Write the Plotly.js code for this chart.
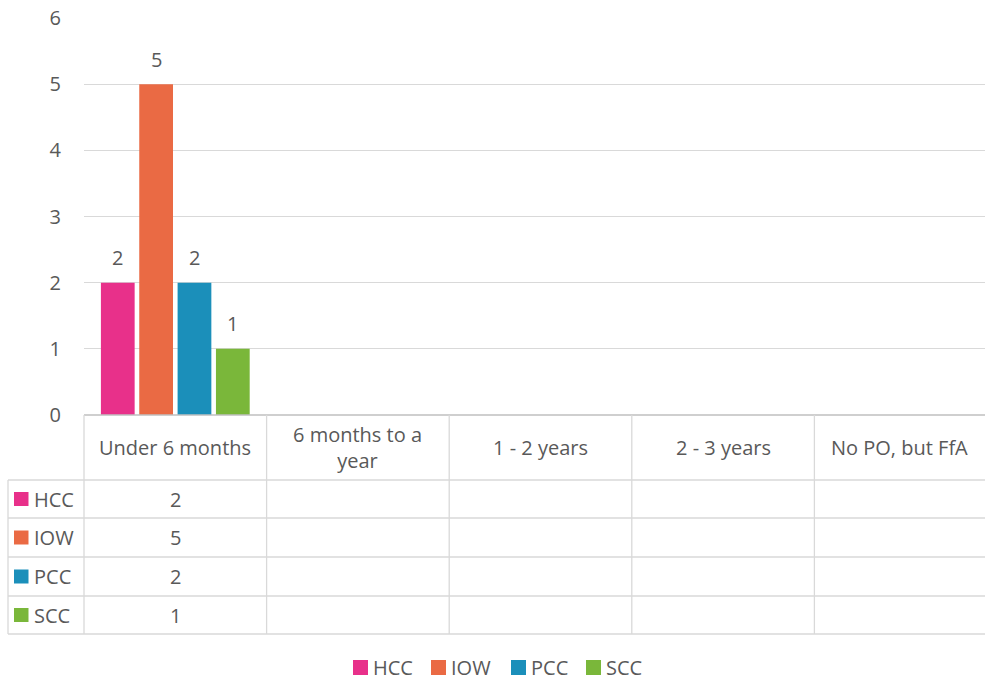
<!DOCTYPE html>
<html>
<head>
<meta charset="utf-8">
<script src="https://cdn.plot.ly/plotly-3.0.1.min.js"></script>
<style>html,body{margin:0;padding:0;background:#fff;}#chart{width:985px;height:682px;}</style>
</head>
<body>
<div id="chart"></div>
<script>
// ---- data ----
const categories = ["Under 6 months", "6 months to a year", "1 - 2 years", "2 - 3 years", "No PO, but FfA"];
const headerLabels = ["Under 6 months", "6 months to a<br>year", "1 - 2 years", "2 - 3 years", "No PO, but FfA"];
const seriesNames = ["HCC", "IOW", "PCC", "SCC"];
const hccValues = [2, null, null, null, null];
const iowValues = [5, null, null, null, null];
const pccValues = [2, null, null, null, null];
const sccValues = [1, null, null, null, null];
const seriesColors = ["#E8308A", "#EA6A44", "#1B8FBA", "#7AB73A"];
const yTicks = [0, 1, 2, 3, 4, 5, 6];

const seriesValues = [hccValues, iowValues, pccValues, sccValues];
const FONT = "Open Sans, sans-serif";
const TXT = "#595959";
const FS = 20;

const BARGAP = 0.16, GROUPGAP = 0.12;
const nS = seriesNames.length;
const slot = (1 - BARGAP) / nS;

const traces = seriesNames.map((name, i) => ({
  type: "bar",
  name: name,
  x: categories.map((c, k) => k),
  y: seriesValues[i],
  marker: {color: seriesColors[i]},
  hoverinfo: "skip",
  showlegend: false
}));

// pixel helpers (plot area: x 84..985, y 18..415)
const plotTop = 18, plotBottom = 415, plotLeft = 84, plotRight = 985;
const catPx = 182.6;
const ph = plotBottom - plotTop, pw = plotRight - plotLeft;
const xMax = -0.5 + pw / catPx;
const py = p => (plotBottom - p) / ph;
const px = p => (p - plotLeft) / pw;

const headerBottom = 480;
const rowLines = [480, 518, 557, 596, 634];
const tableLeft = 8;
const lineColor = "#D9D9D9";

const shapes = [];
const annotations = [];

// data labels above bars
seriesValues.forEach((vals, i) => {
  vals.forEach((v, k) => {
    if (v == null) return;
    annotations.push({xref: "x", yref: "y", x: k + (i - (nS - 1) / 2) * slot, y: v, yshift: 25, text: String(v),
      showarrow: false, xanchor: "center", yanchor: "middle", font: {family: FONT, size: FS, color: TXT}});
  });
});

// horizontal lines
shapes.push({type: "line", xref: "paper", yref: "paper", x0: 0, x1: 1, y0: 0, y1: 0, line: {color: "#BFBFBF", width: 1.3}});
rowLines.forEach(r => shapes.push({type: "line", xref: "paper", yref: "paper", x0: px(tableLeft), x1: 1, y0: py(r), y1: py(r), line: {color: lineColor, width: 1.3}}));
// vertical lines
shapes.push({type: "line", xref: "paper", yref: "paper", x0: px(tableLeft), x1: px(tableLeft), y0: py(headerBottom), y1: py(634), line: {color: lineColor, width: 1.3}});
shapes.push({type: "line", xref: "paper", yref: "paper", x0: 0, x1: 0, y0: 0, y1: py(634), line: {color: lineColor, width: 1.3}});
categories.forEach((c, k) => {
  if (k + 0.5 < xMax) shapes.push({type: "line", xref: "x", yref: "paper", x0: k + 0.5, x1: k + 0.5, y0: 0, y1: py(634), line: {color: lineColor, width: 1.3}});
  const cx = (k - 0.5 + Math.min(k + 0.5, xMax)) / 2;
  annotations.push({xref: "x", yref: "paper", x: cx, y: py((plotBottom + headerBottom) / 2), text: headerLabels[k], showarrow: false,
    font: {family: FONT, size: FS, color: TXT}, xanchor: "center", yanchor: "middle"});
});
// rows
seriesNames.forEach((name, i) => {
  const top = rowLines[i], bot = rowLines[i + 1];
  const mid = (top + bot) / 2;
  shapes.push({type: "rect", xref: "paper", yref: "paper", x0: px(14), x1: px(28.5), y0: py(mid - 7), y1: py(mid + 7), fillcolor: seriesColors[i], line: {width: 0}});
  annotations.push({xref: "paper", yref: "paper", x: px(32), y: py(mid), text: name, showarrow: false,
    font: {family: FONT, size: FS, color: TXT}, xanchor: "left", yanchor: "middle"});
  seriesValues[i].forEach((v, k) => {
    if (v != null) annotations.push({xref: "x", yref: "paper", x: k, y: py(mid), text: String(v), showarrow: false,
      font: {family: FONT, size: FS, color: TXT}, xanchor: "center", yanchor: "middle"});
  });
});

// bottom legend
const legendX = [353, 431, 511, 586];
const legendY = 667;
seriesNames.forEach((name, i) => {
  shapes.push({type: "rect", xref: "paper", yref: "paper", x0: px(legendX[i]), x1: px(legendX[i] + 15), y0: py(legendY - 7), y1: py(legendY + 8), fillcolor: seriesColors[i], line: {width: 0}});
  annotations.push({xref: "paper", yref: "paper", x: px(legendX[i] + 19), y: py(legendY), text: name, showarrow: false, borderpad: 0,
    font: {family: FONT, size: FS, color: TXT}, xanchor: "left", yanchor: "middle"});
});

const layout = {
  width: 985, height: 682,
  margin: {l: plotLeft, r: 0, t: plotTop, b: 682 - plotBottom, pad: 0},
  paper_bgcolor: "#fff", plot_bgcolor: "#fff",
  font: {family: FONT, size: FS, color: TXT},
  barmode: "group", bargap: BARGAP, bargroupgap: GROUPGAP,
  xaxis: {type: "linear", range: [-0.5, xMax], showticklabels: false, showgrid: false, zeroline: false, showline: false, ticks: "", fixedrange: true},
  yaxis: {range: [0, 6], tickvals: yTicks, ticktext: yTicks.map(String), showgrid: true, gridcolor: lineColor, gridwidth: 1.3,
    zeroline: false, showline: false, ticks: "", ticklabelstandoff: 22, tickfont: {family: FONT, size: FS, color: TXT}, fixedrange: true},
  showlegend: false,
  shapes: shapes,
  annotations: annotations
};

Plotly.newPlot("chart", traces, layout, {displayModeBar: false, staticPlot: true});
</script>
</body>
</html>
